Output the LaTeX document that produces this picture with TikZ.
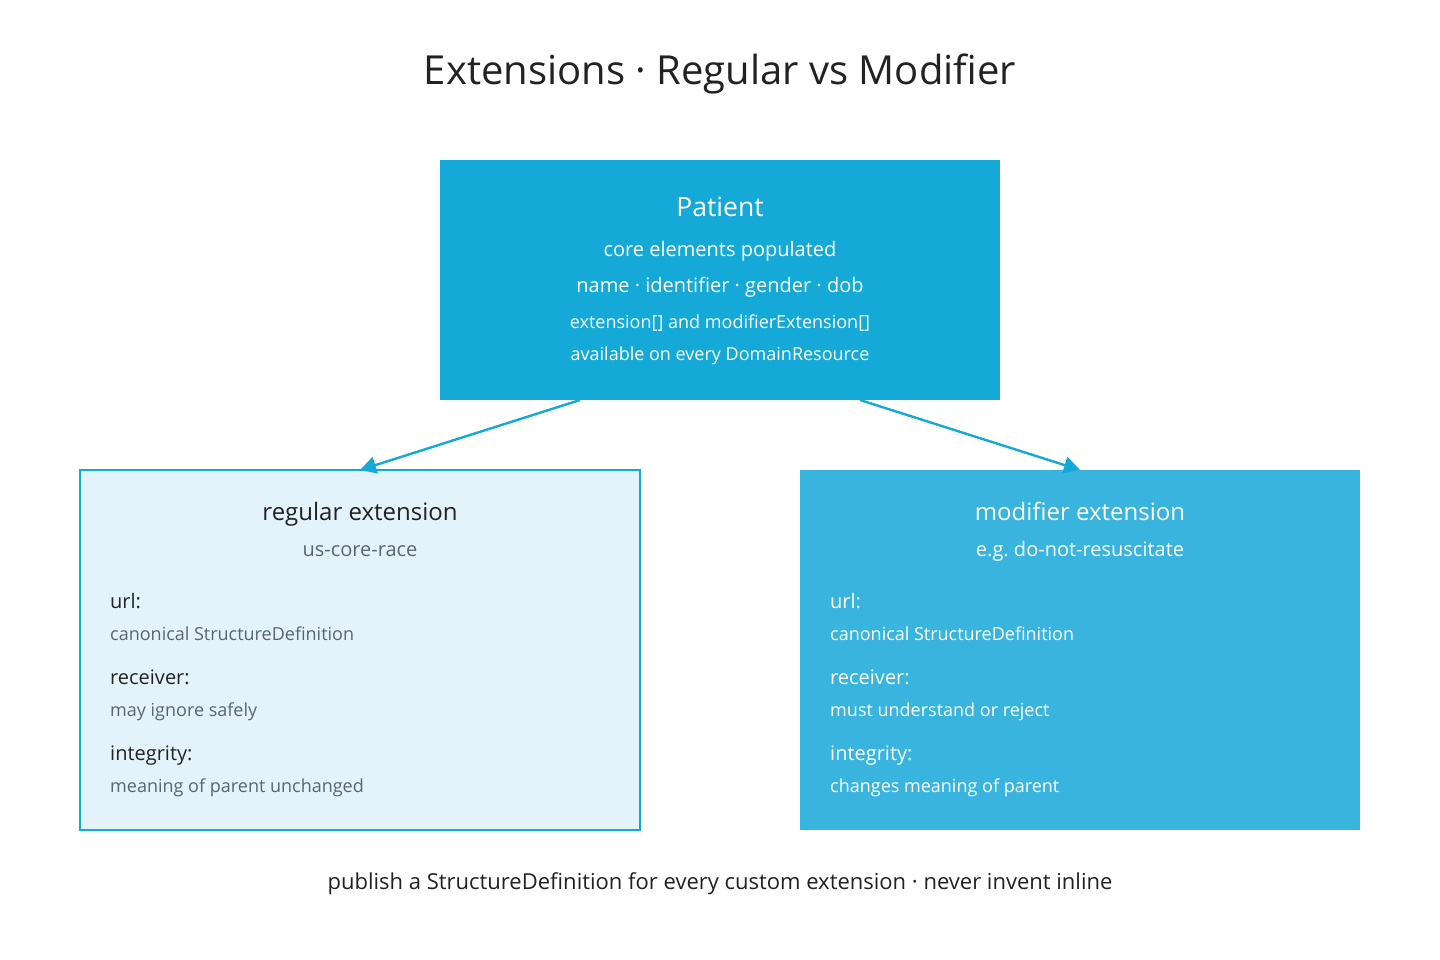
\documentclass[tikz,border=0pt]{standalone}
\usepackage{fontspec}
\setmainfont{Open Sans}
\usetikzlibrary{positioning,arrows.meta}

\definecolor{patientblue}{HTML}{14A9D7}
\definecolor{modblue}{HTML}{38B4DF}
\definecolor{regfill}{HTML}{E3F3FC}
\definecolor{inkdark}{HTML}{222222}
\definecolor{inkgrey}{HTML}{5A6570}

\begin{document}
\begin{tikzpicture}[x=1pt, y=-1pt,
    box/.style={minimum width=560pt, inner sep=0pt, outer sep=0pt},
    txt/.style={inner sep=0pt, anchor=mid},
    lefttxt/.style={inner sep=0pt, anchor=mid west},
    big/.style={font=\fontsize{26.5}{30}\selectfont},
    mid/.style={font=\fontsize{20}{24}\selectfont},
    small/.style={font=\fontsize{18}{21}\selectfont},
    link/.style={-{Triangle[length=16pt,width=17pt]}, line width=2.4pt, draw=patientblue}]
    \useasboundingbox[fill=white] (0,0) rectangle (1440,960);

    % title
    \node[txt, inkdark, font=\fontsize{40}{44}\selectfont] (title) at (720,82) {Extensions · Regular vs Modifier};

    % the three boxes
    \node[box, fill=patientblue, minimum height=240pt] (patient) at (720,280) {};
    \node[box, fill=regfill, draw=patientblue, line width=2.6pt, minimum height=360pt] (regular) at (360,650) {};
    \node[box, fill=modblue, minimum height=360pt] (modifier) at (1080,650) {};

    % patient text
    \node[txt, white, big] (ptitle) at (720,214) {Patient};
    \node[txt, white, mid] (pcore) at (720,254) {core elements populated};
    \node[txt, white, mid] (pfields) at (720,290) {name · identifier · gender · dob};
    \node[txt, white, small] (pext) at (720,326) {extension[] and modifierExtension[]};
    \node[txt, white, small] (pavail) at (720,358) {available on every DomainResource};

    % regular extension text
    \node[txt, inkdark, font=\fontsize{24}{28}\selectfont] (rtitle) at (360,518) {regular extension};
    \node[txt, inkgrey, mid] (rsub) at (360,554) {us-core-race};
    \node[lefttxt, inkdark, mid] (rurl) at (110,606) {url:};
    \node[lefttxt, inkgrey, small] (rurlv) at (110,638) {canonical StructureDefinition};
    \node[lefttxt, inkdark, mid] (rrecv) at (110,682) {receiver:};
    \node[lefttxt, inkgrey, small] (rrecvv) at (110,714) {may ignore safely};
    \node[lefttxt, inkdark, mid] (rint) at (110,758) {integrity:};
    \node[lefttxt, inkgrey, small] (rintv) at (110,790) {meaning of parent unchanged};

    % modifier extension text
    \node[txt, white, font=\fontsize{24}{28}\selectfont] (mtitle) at (1080,518) {modifier extension};
    \node[txt, white, mid] (msub) at (1080,554) {e.g.\ do-not-resuscitate};
    \node[lefttxt, white, mid] (murl) at (830,606) {url:};
    \node[lefttxt, white, small] (murlv) at (830,638) {canonical StructureDefinition};
    \node[lefttxt, white, mid] (mrecv) at (830,682) {receiver:};
    \node[lefttxt, white, small] (mrecvv) at (830,714) {must understand or reject};
    \node[lefttxt, white, mid] (mint) at (830,758) {integrity:};
    \node[lefttxt, white, small] (mintv) at (830,790) {changes meaning of parent};

    % arrows
    \draw[link] ([xshift=-140pt]patient.south) -- (regular.north);
    \draw[link] ([xshift=140pt]patient.south) -- (modifier.north);

    % footer
    \node[txt, inkdark, font=\fontsize{22}{26}\selectfont] (footer) at (720,887) {publish a StructureDefinition for every custom extension · never invent inline};
\end{tikzpicture}
\end{document}
